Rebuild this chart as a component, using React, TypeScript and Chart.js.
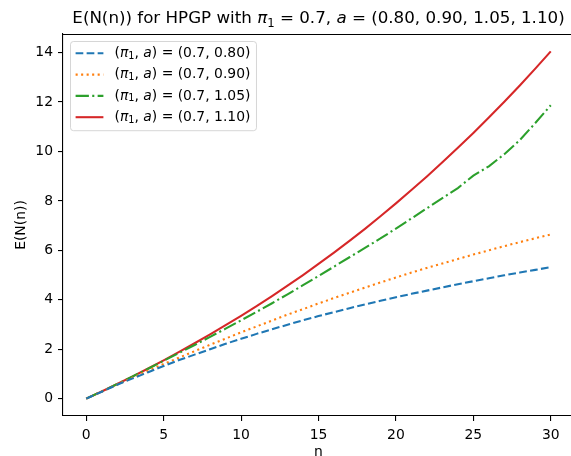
import React, { useEffect, useRef } from 'react';
import { Chart, registerables } from 'chart.js';

Chart.register(...registerables);

// ---------- data ----------
const nValues = [0, 1, 2, 3, 4, 5, 6, 7, 8, 9, 10, 11, 12, 13, 14, 15, 16, 17, 18, 19, 20, 21, 22, 23, 24, 25, 26, 27, 28, 29, 30];
const seriesA080 = [0, 0.28, 0.56, 0.82, 1.07, 1.32, 1.56, 1.78, 2.0, 2.22, 2.42, 2.62, 2.81, 2.99, 3.17, 3.34, 3.5, 3.66, 3.81, 3.96, 4.1, 4.24, 4.37, 4.5, 4.63, 4.75, 4.87, 4.99, 5.1, 5.21, 5.32];
const seriesA090 = [0, 0.29, 0.57, 0.85, 1.13, 1.4, 1.66, 1.92, 2.18, 2.43, 2.68, 2.92, 3.16, 3.4, 3.62, 3.85, 4.07, 4.28, 4.49, 4.7, 4.9, 5.1, 5.29, 5.47, 5.65, 5.83, 6.0, 6.17, 6.33, 6.49, 6.64];
const seriesA105 = [0, 0.29, 0.59, 0.9, 1.21, 1.53, 1.85, 2.17, 2.5, 2.83, 3.17, 3.51, 3.86, 4.22, 4.59, 4.96, 5.34, 5.72, 6.1, 6.48, 6.88, 7.29, 7.7, 8.11, 8.52, 9.02, 9.4, 9.89, 10.46, 11.15, 11.87];
const seriesA110 = [0, 0.29, 0.59, 0.9, 1.22, 1.55, 1.89, 2.24, 2.6, 2.97, 3.35, 3.74, 4.15, 4.57, 5.0, 5.45, 5.91, 6.38, 6.87, 7.38, 7.9, 8.44, 8.99, 9.56, 10.15, 10.75, 11.37, 12.01, 12.67, 13.35, 14.05];

const piOne = '0.7';
const aLabels = ['0.80', '0.90', '1.05', '1.10'];
const xTickValues = [0, 5, 10, 15, 20, 25, 30];
const yTickValues = [0, 2, 4, 6, 8, 10, 12, 14];
const xAxisTitle = 'n';
const yAxisTitle = 'E(N(n))';

// ---------- styles ----------
const FONT = '"DejaVu Sans", "Liberation Sans", sans-serif';
const LW = 2.08;
const colors = ['#1f77b4', '#ff7f0e', '#2ca02c', '#d62728'];
const dashes = [[7.7, 3.33], [2.08, 3.43], [13.3, 3.33, 2.08, 3.33], []];

type Seg = { t: string; k: 'n' | 'i' | 'sub' };

function segFont(k: Seg['k'], size: number) {
  if (k === 'i') return `italic ${size}px ${FONT}`;
  if (k === 'sub') return `${size * 0.7}px ${FONT}`;
  return `${size}px ${FONT}`;
}

function segsWidth(ctx: CanvasRenderingContext2D, segs: Seg[], size: number) {
  let w = 0;
  for (const s of segs) {
    ctx.font = segFont(s.k, size);
    w += ctx.measureText(s.t).width;
  }
  return w;
}

function drawSegs(ctx: CanvasRenderingContext2D, segs: Seg[], x: number, y: number, size: number) {
  let cx = x;
  for (const s of segs) {
    ctx.font = segFont(s.k, size);
    const dy = s.k === 'sub' ? size * 0.22 : 0;
    ctx.fillText(s.t, cx, y + dy);
    cx += ctx.measureText(s.t).width;
  }
}

const legendSegs = (a: string): Seg[] => [
  { t: '(', k: 'n' },
  { t: 'π', k: 'i' },
  { t: '1', k: 'sub' },
  { t: ', ', k: 'n' },
  { t: 'a', k: 'i' },
  { t: `) = (${piOne}, ${a})`, k: 'n' },
];

const titleSegs: Seg[] = [
  { t: 'E(N(n)) for HPGP with ', k: 'n' },
  { t: 'π', k: 'i' },
  { t: '1', k: 'sub' },
  { t: ` = ${piOne}, `, k: 'n' },
  { t: 'a', k: 'i' },
  { t: ` = (${aLabels.join(', ')})`, k: 'n' },
];

const TICK_SIZE = 13.9;
const TITLE_SIZE = 16.7;

const mplPlugin = {
  id: 'mplDecor',
  afterDraw(chart: any) {
    const ctx: CanvasRenderingContext2D = chart.ctx;
    const area = chart.chartArea;
    ctx.save();
    // top & right spines
    ctx.strokeStyle = '#000';
    ctx.lineWidth = 1.1;
    ctx.beginPath();
    ctx.moveTo(area.left, area.top + 0.5);
    ctx.lineTo(area.right, area.top + 0.5);
    ctx.moveTo(area.right - 0.5, area.top);
    ctx.lineTo(area.right - 0.5, area.bottom);
    ctx.stroke();

    // title
    ctx.fillStyle = '#000';
    ctx.textBaseline = 'alphabetic';
    ctx.textAlign = 'left';
    const tw = segsWidth(ctx, titleSegs, TITLE_SIZE);
    const cx = (area.left + area.right) / 2;
    drawSegs(ctx, titleSegs, cx - tw / 2, 23, TITLE_SIZE);

    // legend
    const bx = area.left + 7;
    const by = area.top + 7;
    const rowH = 21.3;
    const datasets = chart.data.datasets;
    let maxW = 0;
    datasets.forEach((d: any, i: number) => {
      maxW = Math.max(maxW, segsWidth(ctx, legendSegs(aLabels[i]), TICK_SIZE));
    });
    const handleX0 = bx + 5.6;
    const handleX1 = handleX0 + 27.8;
    const textX = handleX1 + 11.1;
    const bw = textX + maxW + 5.6 - bx;
    const bh = rowH * datasets.length + 4;
    ctx.beginPath();
    if ((ctx as any).roundRect) (ctx as any).roundRect(bx + 0.5, by + 0.5, bw, bh, 3);
    else ctx.rect(bx + 0.5, by + 0.5, bw, bh);
    ctx.fillStyle = 'rgba(255,255,255,0.8)';
    ctx.fill();
    ctx.strokeStyle = 'rgba(204,204,204,0.8)';
    ctx.lineWidth = 1;
    ctx.stroke();

    datasets.forEach((d: any, i: number) => {
      const cy = by + 12.3 + i * rowH;
      ctx.beginPath();
      ctx.setLineDash(d.borderDash || []);
      ctx.strokeStyle = d.borderColor;
      ctx.lineWidth = d.borderWidth;
      ctx.lineCap = 'butt';
      ctx.moveTo(handleX0, cy);
      ctx.lineTo(handleX1, cy);
      ctx.stroke();
      ctx.setLineDash([]);
      ctx.fillStyle = '#000';
      ctx.textBaseline = 'middle';
      drawSegs(ctx, legendSegs(aLabels[i]), textX, cy, TICK_SIZE);
    });
    ctx.restore();
  },
};

export default function App() {
  const canvasRef = useRef<HTMLCanvasElement | null>(null);

  useEffect(() => {
    document.body.style.margin = '0';
    document.body.style.overflow = 'hidden';
    const canvas = canvasRef.current;
    if (!canvas) return;
    const allSeries = [seriesA080, seriesA090, seriesA105, seriesA110];
    const chart = new Chart(canvas, {
      type: 'line',
      data: {
        datasets: allSeries.map((vals, i) => ({
          label: `(π₁, a) = (${piOne}, ${aLabels[i]})`,
          data: nValues.map((n, j) => ({ x: n, y: vals[j] })),
          borderColor: colors[i],
          backgroundColor: colors[i],
          borderWidth: LW,
          borderDash: dashes[i],
          borderCapStyle: 'butt',
          pointRadius: 0,
          tension: 0,
          fill: false,
        })),
      },
      options: {
        animation: false,
        responsive: false,
        devicePixelRatio: 1,
        layout: { padding: { top: 34, right: 1, left: 0, bottom: 0 } },
        plugins: {
          legend: { display: false },
          title: { display: false },
          tooltip: { enabled: false },
        },
        scales: {
          x: {
            type: 'linear',
            min: -1.5,
            max: 31.5,
            afterBuildTicks: (s: any) => {
              s.ticks = xTickValues.map((v) => ({ value: v }));
            },
            afterFit: (s: any) => {
              s.height = 40;
            },
            ticks: {
              font: { family: FONT, size: TICK_SIZE },
              color: '#000',
              padding: 6,
              maxRotation: 0,
              autoSkip: false,
            },
            grid: { drawOnChartArea: false, drawTicks: true, tickLength: 5, color: '#000', lineWidth: 1.1 },
            border: { display: true, color: '#000', width: 1.1 },
            title: {
              display: true,
              text: xAxisTitle,
              color: '#000',
              font: { family: FONT, size: TICK_SIZE },
              padding: { top: 0, bottom: -5 },
            },
          },
          y: {
            type: 'linear',
            min: -0.7025,
            max: 14.7525,
            afterBuildTicks: (s: any) => {
              s.ticks = yTickValues.map((v) => ({ value: v }));
            },
            afterFit: (s: any) => {
              s.width = 63;
            },
            ticks: {
              font: { family: FONT, size: TICK_SIZE },
              color: '#000',
              padding: 5,
              autoSkip: false,
            },
            grid: { drawOnChartArea: false, drawTicks: true, tickLength: 5, color: '#000', lineWidth: 1.1 },
            border: { display: true, color: '#000', width: 1.1 },
            title: {
              display: true,
              text: yAxisTitle,
              color: '#000',
              font: { family: FONT, size: TICK_SIZE },
              padding: { top: 12.7, bottom: 0 },
            },
          },
        },
      },
      plugins: [mplPlugin],
    } as any);
    return () => chart.destroy();
  }, []);

  return (
    <div style={{ position: 'fixed', left: 0, top: 0, width: 571, height: 456, overflow: 'hidden', background: '#fff' }}>
      <canvas ref={canvasRef} width={575} height={456} style={{ display: 'block', width: 575, height: 456 }} />
    </div>
  );
}
